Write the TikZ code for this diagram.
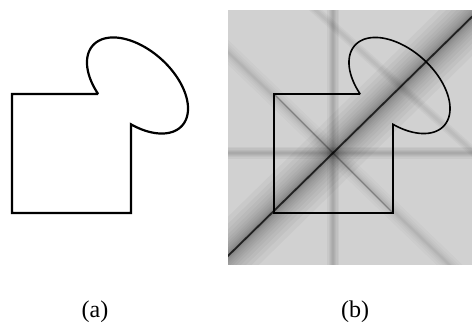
\documentclass[tikz,border=0pt]{standalone}
\usepackage{fontspec}
\setmainfont{Liberation Serif}
\begin{document}
\begin{tikzpicture}[
    x=1pt, y=1pt,
    caption/.style = {font=\fontsize{24}{28}\selectfont, inner sep=0pt},
    backdrop/.style = {fill=black!18},
    streak/.style = {draw=black, line cap=butt},
    keyhole/.pic = {
        \draw[pic actions] (12,110) -- (12,229) -- (98.15,229)
            -- plot[domain=246.9:-69.4, samples=160, variable=\t]
               ({137.5+44.59*cos(\t)+23.75*sin(\t)}, {237.5-40.15*cos(\t)+26.38*sin(\t)})
            -- (131,110) -- cycle;
    }
]
    \useasboundingbox (0,0) rectangle (472,323);

    % Line ends of the transform picture
    \coordinate (mid) at (333,170);
    \coordinate (diagLo) at (83,-75);
    \coordinate (diagHi) at (583,415);
    \coordinate (antiHi) at (83,410);
    \coordinate (antiLo) at (583,-70);
    \coordinate (horzW) at (200,170);
    \coordinate (horzE) at (500,170);
    \coordinate (vertS) at (333,0);
    \coordinate (vertN) at (333,340);
    \coordinate (axisHi) at (251,371);
    \coordinate (axisLo) at (548,104);
    \coordinate (sqNW) at (274,229);
    \coordinate (sqSE) at (392,111);

    % (a) plain shape
    \pic[line width=2.2pt] at (0,0) {keyhole};

    % (b) shape over its transform
    \begin{scope}
        \clip (228,58) rectangle (472,312.5);
        \fill[backdrop] (228,58) rectangle (472,312.5);
        % main diagonal
        \foreach \w in {56,46,38,31,25,20,16,12,9,6,4,2.5}
            \draw[streak, line width=\w pt, draw opacity=0.035] (diagLo) -- (diagHi);
        \draw[streak, line width=1.8pt, draw opacity=0.75] (diagLo) -- (diagHi);
        % other diagonal
        \foreach \w in {18,13,9,6,3.5,2}
            \draw[streak, line width=\w pt, draw opacity=0.025] (antiHi) -- (antiLo);
        \draw[streak, line width=1.2pt, draw opacity=0.3] (sqNW) -- (sqSE);
        % horizontal and vertical
        \foreach \w in {12,9,6,4,2} {
            \draw[streak, line width=\w pt, draw opacity=0.04] (horzW) -- (horzE);
            \draw[streak, line width=\w pt, draw opacity=0.04] (vertS) -- (vertN);
        }
        % axis of the oval
        \foreach \w in {9,6,3}
            \draw[streak, line width=\w pt, draw opacity=0.03] (axisHi) -- (axisLo);
    \end{scope}
    \pic[line width=1.6pt] at (262,0) {keyhole};

    % Captions
    \node[caption] (capA) at (95,11) {(a)};
    \node[caption] (capB) at (355,11) {(b)};
\end{tikzpicture}
\end{document}
